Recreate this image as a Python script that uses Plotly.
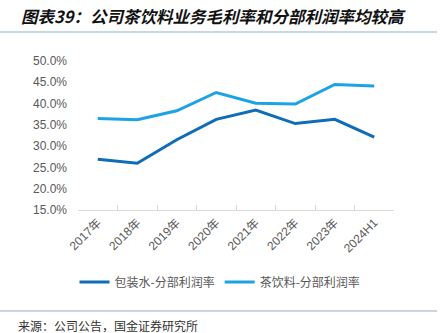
import plotly.graph_objects as go

# Segment profit margins by year
years = ["2017年", "2018年", "2019年", "2020年", "2021年", "2022年", "2023年", "2024H1"]
water_margin = [26.9, 26.0, 31.5, 36.3, 38.5, 35.3, 36.3, 32.1]
tea_margin = [36.5, 36.2, 38.3, 42.6, 40.1, 39.9, 44.5, 44.1]
series_names = ["包装水-分部利润率", "茶饮料-分部利润率"]
y_ticks = [15, 20, 25, 30, 35, 40, 45, 50]
y_tick_labels = [f"{v:.1f}%" for v in y_ticks]

W, H = 440, 333
L, R, T, B = 78, 46, 61, 123
PW, PH = W - L - R, H - T - B


def px_x(x):
    return (x - L) / PW


def px_y(y):
    return (H - B - y) / PH


fig = go.Figure()
fig.add_trace(go.Scatter(x=years, y=water_margin, name=series_names[0], mode="lines",
                         line=dict(color="#0F6CB6", width=3)))
fig.add_trace(go.Scatter(x=years, y=tea_margin, name=series_names[1], mode="lines",
                         line=dict(color="#1BA3E6", width=3)))

cjk = "Noto Sans CJK SC"

fig.update_layout(
    width=W, height=H,
    margin=dict(l=L, r=R, t=T, b=B, pad=0),
    paper_bgcolor="white", plot_bgcolor="white",
    font=dict(family="Liberation Sans, " + cjk, size=12, color="#595959"),
    showlegend=True,
    legend=dict(orientation="h", x=px_x(220), xanchor="center", y=px_y(282), yanchor="middle",
                font=dict(family=cjk, size=12, color="#595959"), itemwidth=30,
                bgcolor="rgba(0,0,0,0)"),
    xaxis=dict(range=[-0.5, len(years) - 0.5], showgrid=False, showline=True,
               linecolor="#D9D9D9", linewidth=1,
               ticks="inside", tickson="boundaries", ticklen=5, tickcolor="#D9D9D9",
               tickangle=-45, tickfont=dict(size=12, family="Liberation Sans, " + cjk)),
    yaxis=dict(range=[15, 50], tickvals=y_ticks, ticktext=y_tick_labels, showgrid=False,
               showline=False, zeroline=False, ticks="", ticklabelstandoff=10),
)

# title, separators and source note
fig.add_annotation(text="图表39：公司茶饮料业务毛利率和分部利润率均较高", xref="paper", yref="paper",
                   x=px_x(19), y=px_y(16), xanchor="left", yanchor="middle", showarrow=False,
                   font=dict(family=cjk, size=16.5, color="#111111", weight="bold", style="italic"))
fig.add_shape(type="line", xref="paper", yref="paper", x0=px_x(0), x1=px_x(437),
              y0=px_y(32), y1=px_y(32), line=dict(color="#8FB0C8", width=1.2))
fig.add_shape(type="line", xref="paper", yref="paper", x0=px_x(0), x1=px_x(437),
              y0=px_y(311), y1=px_y(311), line=dict(color="#8FB0C8", width=1.2))
fig.add_annotation(text="来源：公司公告，国金证券研究所", xref="paper", yref="paper",
                   x=px_x(16), y=px_y(325), xanchor="left", yanchor="middle", showarrow=False,
                   font=dict(family=cjk, size=12, color="#333333"))

fig.write_html("out.html")
